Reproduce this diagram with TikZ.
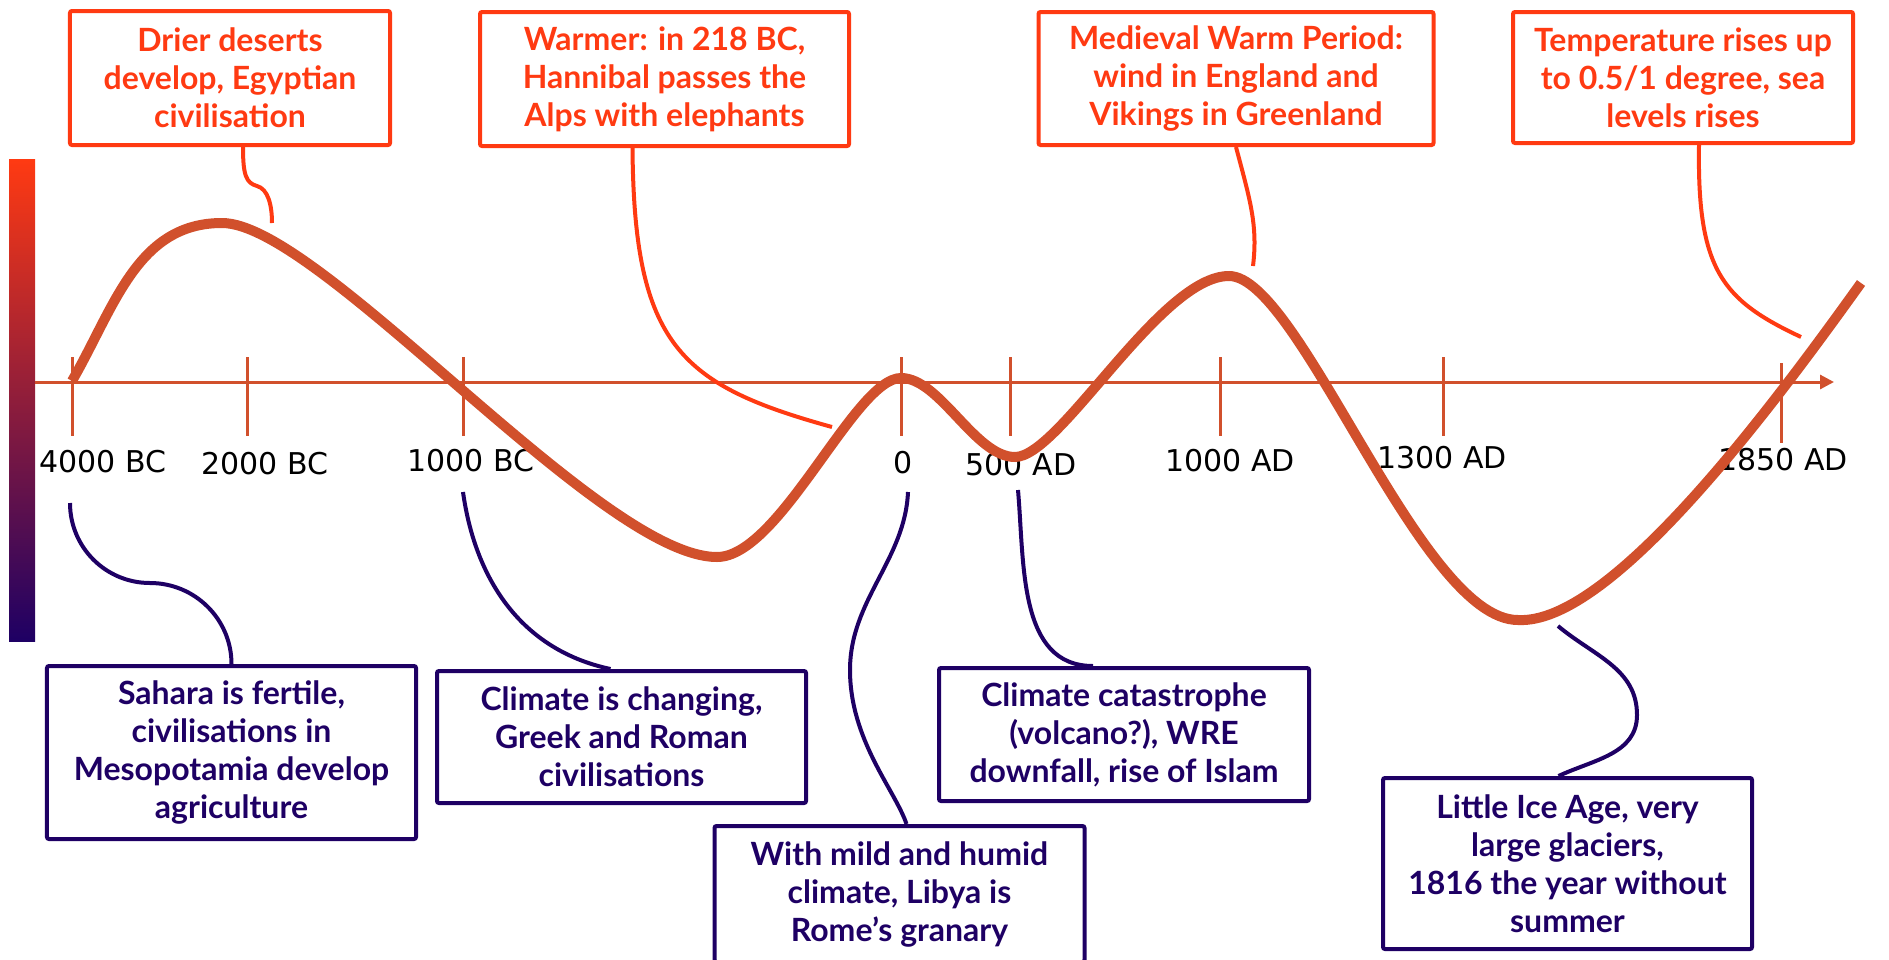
\documentclass[tikz,border=0pt]{standalone}
\usepackage{fontspec}
\newfontfamily\boxfont{Lato}
\newfontfamily\yearfont{DejaVu Sans}
\usetikzlibrary{arrows.meta}

\definecolor{hotred}{RGB}{255,58,18}
\definecolor{coldblue}{RGB}{30,0,100}
\definecolor{curvecol}{RGB}{209,80,44}
\definecolor{barmid}{RGB}{190,36,72}

\tikzset{
  warmbox/.style={draw=hotred, text=hotred, line width=4bp, rounded corners=2bp, align=center, inner sep=0pt,
    font=\boxfont\bfseries\fontsize{32bp}{38bp}\selectfont},
  coldbox/.style={warmbox, draw=coldblue, text=coldblue},
  warmlink/.style={draw=hotred, line width=4bp},
  coldlink/.style={draw=coldblue, line width=4bp},
  yearlbl/.style={font=\yearfont\fontsize{30bp}{36bp}\selectfont, anchor=base, inner sep=0pt},
  tickmark/.style={draw=curvecol, line width=3bp},
}

\begin{document}
\begin{tikzpicture}[x=1bp,y=1bp]
\clip (0,0) rectangle (1889,-959);

% colour bar
\shade[top color=hotred, middle color=barmid, bottom color=coldblue] (9,-159) rectangle (35,-641);

% time axis
\draw[curvecol, line width=3bp, -{Triangle[length=14bp,width=14bp]}] (35,-382) -- (1834,-382);
\foreach \x in {72,247,463,901,1010,1220,1443}
  \draw[tickmark] (\x,-357) -- (\x,-436);
\draw[tickmark] (1781,-363) -- (1781,-443);

\node[yearlbl] (y4000) at (103,-472) {4000 BC};
\node[yearlbl] (y2000) at (265,-474) {2000 BC};
\node[yearlbl] (y1000) at (471,-471) {1000 BC};
\node[yearlbl] (yzero) at (903,-473) {0};
\node[yearlbl] (y500) at (1021,-475) {500 AD};
\node[yearlbl] (ad1000) at (1230,-471) {1000 AD};
\node[yearlbl] (ad1300) at (1442,-468) {1300 AD};
\node[yearlbl] (ad1850) at (1783,-470) {1850 AD};

% temperature curve
\draw[curvecol, line width=10bp] (72,-381) to[out=60,in=180] (222,-223)
  .. controls (320,-223) and (600,-557) .. (717,-557)
  .. controls (780,-557) and (855,-378) .. (901,-378)
  .. controls (940,-378) and (975,-457) .. (1015,-457)
  .. controls (1060,-457) and (1160,-276) .. (1229,-276)
  .. controls (1300,-276) and (1420,-620) .. (1518,-620)
  .. controls (1610,-625) and (1770,-410) .. (1861,-283);

% warm periods
\node[warmbox, minimum width=320bp, minimum height=134bp] (drier) at (230,-78)
  {Drier deserts\\develop, Egyptian\\civilisation};
\node[warmbox, minimum width=369bp, minimum height=134bp] (warmer) at (664.5,-79)
  {Warmer: in 218 BC,\\Hannibal passes the\\Alps with elephants};
\node[warmbox, minimum width=395bp, minimum height=133bp] (medieval) at (1236,-78.5)
  {Medieval Warm Period:\\wind in England and\\Vikings in Greenland};
\node[warmbox, minimum width=340bp, minimum height=131bp] (rises) at (1683,-77.5)
  {Temperature rises up\\to 0.5/1 degree, sea\\levels rises};

% cold periods
\node[coldbox, minimum width=369bp, minimum height=173bp] (sahara) at (231.5,-752.5)
  {Sahara is fertile,\\civilisations in\\Mesopotamia develop\\agriculture};
\node[coldbox, minimum width=369bp, minimum height=132bp] (changing) at (621.5,-737)
  {Climate is changing,\\Greek and Roman\\civilisations};
\node[coldbox, minimum width=370bp, minimum height=136bp] (libya) at (899.5,-894)
  {With mild and humid\\climate, Libya is\\Rome’s granary};
\node[coldbox, minimum width=370bp, minimum height=133bp] (catastrophe) at (1124,-734.5)
  {Climate catastrophe\\(volcano?), WRE\\downfall, rise of Islam};
\node[coldbox, minimum width=369bp, minimum height=171bp] (iceage) at (1567.5,-863.5)
  {Little Ice Age, very\\large glaciers,\\1816 the year without\\summer};

% link ends
\coordinate (drierend) at (272,-223);
\coordinate (warmerend) at (832,-427);
\coordinate (medend) at (1253,-266);
\coordinate (risesend) at (1801,-337);
\coordinate (saharastart) at (70,-503);
\coordinate (chgstart) at (463,-492);
\coordinate (libstart) at (908,-492);
\coordinate (catstart) at (1018,-490);
\coordinate (icestart) at (1558,-626);

\draw[warmlink] ([xshift=13bp]drier.south) .. controls (243,-175) and (246,-183) .. (257,-186)
  .. controls (268,-189) and (272,-205) .. (drierend);
\draw[warmlink] ([xshift=-32bp]warmer.south) .. controls (634,-345) and (680,-385) .. (warmerend);
\draw[warmlink] (medieval.south) .. controls (1250,-200) and (1258,-225) .. (medend);
\draw[warmlink] ([xshift=16bp]rises.south) .. controls (1697,-270) and (1722,-300) .. (risesend);

\draw[coldlink] (saharastart) to[out=-90,in=180] (150,-583) to[out=0,in=90] (sahara.north);
\draw[coldlink] (chgstart) to[out=-82,in=168] ([xshift=-11bp]changing.north);
\draw[coldlink] (libstart) .. controls (905,-560) and (850,-600) .. (850,-670)
  .. controls (850,-740) and (895,-790) .. ([xshift=7bp]libya.north);
\draw[coldlink] (catstart) to[out=-85,in=180] ([xshift=-31bp]catastrophe.north);
\draw[coldlink] (icestart) to[out=-40,in=90] (1637,-715) to[out=-90,in=25] ([xshift=-9bp]iceage.north);
\end{tikzpicture}
\end{document}
